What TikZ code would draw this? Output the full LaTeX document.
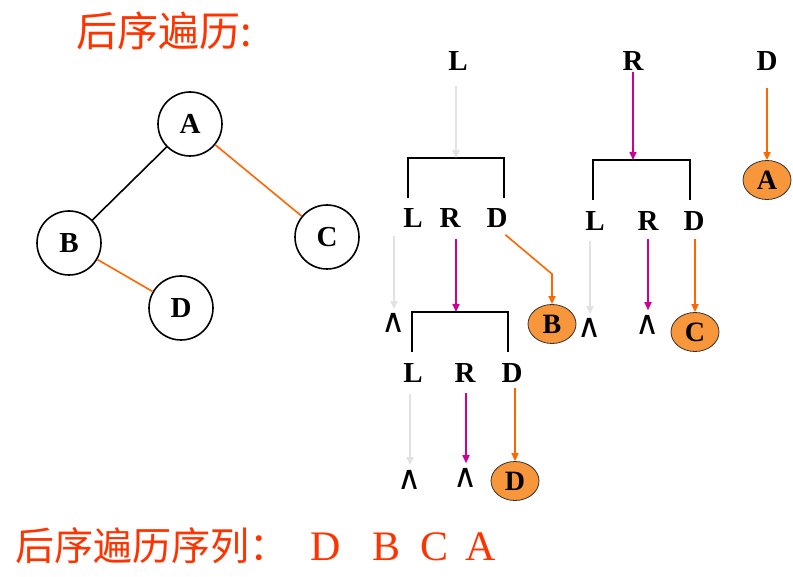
\documentclass[tikz,border=0pt]{standalone}
\usepackage{fontspec}
\setmainfont{Liberation Serif}
\newfontfamily\cjk{Noto Sans CJK SC}
\newfontfamily\symf{DejaVu Sans}
\usepackage{tikz}
\usetikzlibrary{shapes.geometric, arrows.meta}
\usepackage{xcolor}
\definecolor{titlered}{HTML}{FF3300}
\definecolor{orangeline}{HTML}{FF6600}
\definecolor{magline}{HTML}{CC0099}
\definecolor{greyline}{HTML}{E2E2E2}
\definecolor{ballfill}{HTML}{F7963A}

\begin{document}
\begin{tikzpicture}[x=1pt, y=-1pt,
    tnode/.style={circle, draw, line width=1.6pt, minimum size=64pt, inner sep=0pt, font=\bfseries\fontsize{29}{29}\selectfont},
    lbl/.style={inner sep=0pt, font=\bfseries\fontsize{29}{29}\selectfont},
    ball/.style={ellipse, draw=black!80, line width=0.8pt, fill=ballfill, minimum width=48pt, minimum height=39pt, inner sep=0pt, font=\bfseries\fontsize{28}{28}\selectfont},
    nil/.style={inner sep=0pt, font=\symf\fontsize{33}{33}\selectfont},
    brk/.style={line width=2.2pt},
    tip/.style={-{Triangle[length=8pt,width=7pt]}, line width=1.6pt},
    garr/.style={tip, greyline},
    marr/.style={tip, magline},
    oarr/.style={tip, orangeline}]
    \path[use as bounding box] (0,0) rectangle (793,577);
    \node[anchor=west, inner sep=0pt, text=titlered, font=\cjk\fontsize{41}{41}\selectfont] (title) at (76,31) {后序遍历:};
    \node[tnode] (A) at (190,124) {A};
    \node[tnode] (B) at (69,243) {B};
    \node[tnode] (C) at (327,237) {C};
    \node[tnode] (D) at (181,308) {D};
    \draw[line width=1.6pt] (A) -- (B);
    \draw[line width=1.6pt, orangeline] (A) -- (C);
    \draw[line width=1.6pt, orangeline] (B) -- (D);

    \node[lbl] (L0) at (458,61) {L};
    \node[lbl] (R0) at (633,61) {R};
    \node[lbl] (D0) at (767,61) {D};
    \node[ball] (eA) at (767,180) {A};
    \coordinate (k1) at (456,158);
    \coordinate (k1l) at (408,198);
    \coordinate (k1r) at (504,198);
    \coordinate (k2) at (633,160);
    \coordinate (k2l) at (593,200);
    \coordinate (k2r) at (690,200);
    \coordinate (k3) at (456,312);
    \coordinate (k3l) at (412,352);
    \coordinate (k3r) at (508,352);
    \draw[brk] (k1l) |- (k1) -| (k1r);
    \draw[brk] (k2l) |- (k2) -| (k2r);
    \draw[brk] (k3l) |- (k3) -| (k3r);
    \draw[garr, shorten <=15pt] (L0.south -| k1) -- (k1);
    \draw[marr, shorten <=1pt] (R0.south) -- (k2);
    \draw[oarr, shorten <=17pt] (D0.south) -- (eA);

    \node[lbl] (L1) at (413,218) {L};
    \node[lbl] (R1) at (450,218) {R};
    \node[lbl] (D1) at (497,218) {D};
    \node[nil] (n1) at (394,323) {∧};
    \node[ball] (eB) at (552,324) {B};
    \coordinate (bend) at (552,274);
    \draw[garr, shorten <=8pt, shorten >=4pt] (L1.south -| n1) -- (n1.north);
    \draw[marr, shorten <=11pt] (R1.south -| k3) -- (k3);
    \draw[oarr, shorten <=11pt] (D1.south) -- (bend) -- (eB);

    \node[lbl] (L2) at (595,221) {L};
    \node[lbl] (R2) at (648,221) {R};
    \node[lbl] (D2) at (694,221) {D};
    \node[nil] (n4) at (590,328) {∧};
    \node[nil] (n5) at (648,325) {∧};
    \node[ball] (eC) at (695,332) {C};
    \draw[garr, shorten <=10pt, shorten >=4pt] (L2.south -| n4) -- (n4.north);
    \draw[marr, shorten <=8pt, shorten >=5pt] (R2.south -| n5) -- (n5.north);
    \draw[oarr, shorten <=8pt] (D2.south -| eC) -- (eC);

    \node[lbl] (L3) at (413,373) {L};
    \node[lbl] (R3) at (465,373) {R};
    \node[lbl] (D3) at (512,373) {D};
    \node[nil] (n6) at (410,480) {∧};
    \node[nil] (n7) at (466,478) {∧};
    \node[ball] (eD) at (515,481) {D};
    \draw[garr, shorten <=11pt, shorten >=5pt] (L3.south -| n6) -- (n6.north);
    \draw[marr, shorten <=10pt, shorten >=5pt] (R3.south -| n7) -- (n7.north);
    \draw[oarr, shorten <=5pt] (D3.south -| eD) -- (eD);

    \node[anchor=base west, inner sep=0pt, text=titlered, font=\fontsize{42}{42}\selectfont] (seq) at (15,560)
        {{\cjk\fontsize{39}{39}\selectfont 后序遍历序列：}\hspace{22pt}D\hspace{32pt}B\hspace{20pt}C\hspace{17pt}A};
\end{tikzpicture}
\end{document}
